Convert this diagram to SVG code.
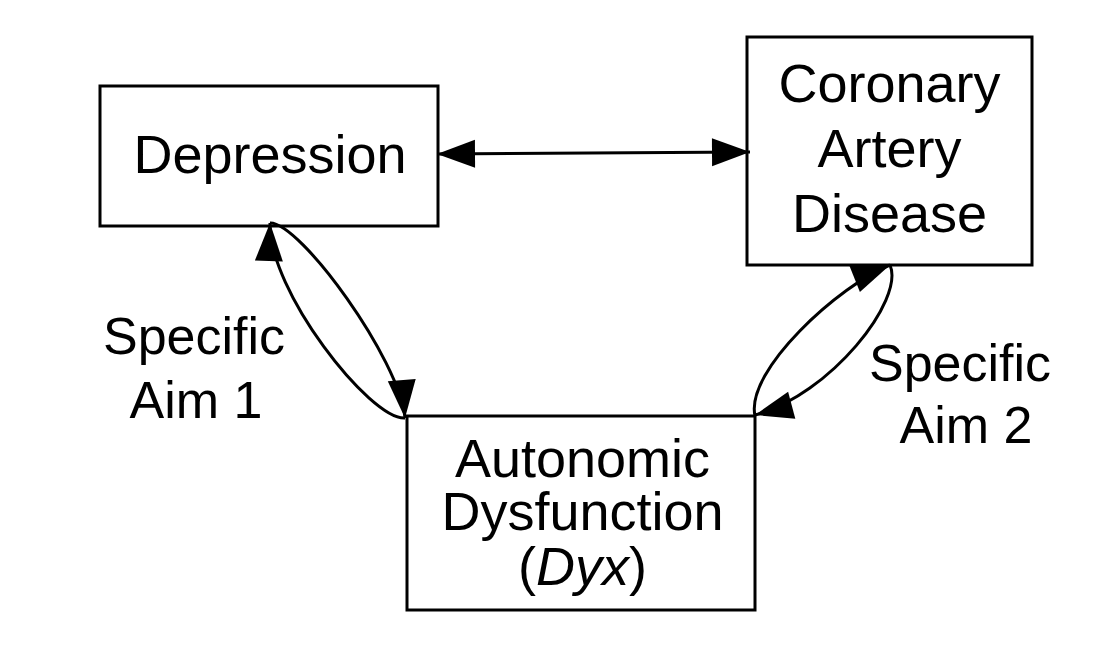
<svg xmlns="http://www.w3.org/2000/svg" width="1108" height="646" viewBox="0 0 1108 646">
<style>
.box{fill:#fff;stroke:#000;stroke-width:3}
.lbl{font-family:"Liberation Sans",Arial,sans-serif;font-size:54px;fill:#000;text-anchor:middle}
.aim{font-size:52px}
.con{fill:none;stroke:#000;stroke-width:3;marker-end:url(#ah)}
</style>
<defs>
<marker id="ah" markerUnits="userSpaceOnUse" markerWidth="40" markerHeight="30" refX="38" refY="14" orient="auto-start-reverse" overflow="visible">
<path d="M0,0 L38,14 L0,28 z" fill="#000"/>
</marker>
</defs>
<rect width="1108" height="646" fill="#fff"/>
<g id="depression">
<rect class="box" x="100" y="86" width="338" height="140"/>
<text class="lbl" x="270" y="173">Depression</text>
</g>
<g id="cad">
<rect class="box" x="747" y="37" width="285" height="228"/>
<text class="lbl" x="889.5" y="102">Coronary</text>
<text class="lbl" x="889.5" y="167">Artery</text>
<text class="lbl" x="889.5" y="232">Disease</text>
</g>
<g id="autonomic">
<rect class="box" x="407" y="416" width="348" height="194"/>
<text class="lbl" x="582.5" y="477">Autonomic</text>
<text class="lbl" x="582.5" y="530">Dysfunction</text>
<text class="lbl" x="582.5" y="585">(<tspan font-style="italic">Dyx</tspan>)</text>
</g>
<g id="aim1">
<text class="lbl aim" x="194" y="354">Specific</text>
<text class="lbl aim" x="196" y="418">Aim 1</text>
</g>
<g id="aim2">
<text class="lbl aim" x="960" y="381">Specific</text>
<text class="lbl aim" x="966" y="443">Aim 2</text>
</g>
<g id="connectors">
<path class="con" d="M437,154 L750,152" marker-start="url(#ah)"/>
<path class="con" d="M270,223 C300,222 400,360 405,418"/>
<path class="con" d="M405,418 C370,420 268,290 270,223"/>
<path class="con" d="M755,416 C745,370 840,285 890,265"/>
<path class="con" d="M890,265 C905,300 830,395 755,415"/>
</g>
</svg>
